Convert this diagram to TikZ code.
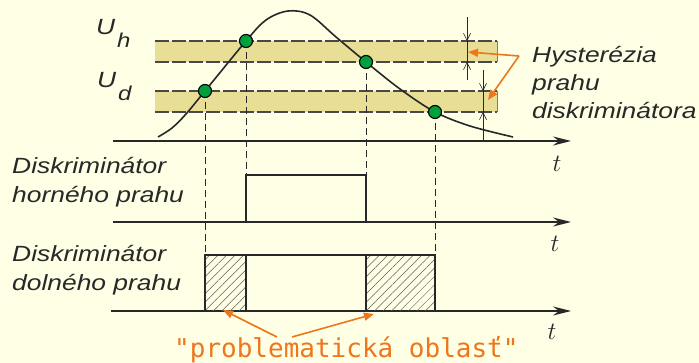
\documentclass[tikz,border=0pt]{standalone}
\usepackage{fontspec}
\setmainfont{Liberation Sans}
\newfontfamily\labfont[FakeStretch=1.2]{Liberation Sans}
\newfontfamily\monofont{DejaVu Sans Mono}
\usetikzlibrary{arrows.meta,patterns.meta}
\definecolor{bg}{RGB}{255,255,230}
\definecolor{band}{RGB}{232,222,150}
\definecolor{org}{RGB}{238,118,28}
\definecolor{dotc}{RGB}{0,160,60}
\definecolor{ink}{RGB}{40,40,40}
\tikzset{
  axisline/.style={draw=ink, line width=1.3pt, -{Stealth[length=18pt,width=9pt,inset=6pt]}},
  guide/.style={draw=ink, dash pattern=on 7pt off 4pt, line width=0.8pt},
  bandedge/.style={draw=ink!85, dash pattern=on 14pt off 3pt, line width=1.1pt},
  sig/.style={draw=ink, line width=1.3pt},
  curvest/.style={draw=ink, line width=1.6pt},
  hatchfill/.style={pattern={Lines[angle=45,distance=6pt,line width=0.5pt]}, pattern color=ink!75},
  oarrow/.style={draw=org, line width=1.6pt, -{Triangle[length=10pt,width=8pt]}},
  hyst/.style={draw=ink, line width=0.6pt},
  hysttip/.style={draw=ink, line width=0.6pt, -{Straight Barb[length=7pt,width=7pt]}},
  dotst/.style={circle, fill=dotc, draw=black, line width=1.1pt, minimum size=13pt, inner sep=0pt},
  lab/.style={font=\labfont\itshape\fontsize{22}{26}\selectfont, inner sep=0pt, anchor=base west, text=ink},
  sublab/.style={font=\labfont\itshape\fontsize{20}{24}\selectfont, inner sep=0pt, anchor=base west, text=ink},
  tlab/.style={font=\fontsize{26}{26}\selectfont, inner sep=0pt, text=ink},
  monolab/.style={font=\monofont\fontsize{26}{30}\selectfont, inner sep=0pt, anchor=base west, text=org}
}
\begin{document}
\begin{tikzpicture}[x=1pt,y=-1pt]
\useasboundingbox (0,0) rectangle (699,363);
\fill[bg] (0,0) rectangle (699,363);
% bands
\fill[band] (155,41) rectangle (497,62);
\fill[band] (155,91) rectangle (497,112);
\draw[bandedge] (155,41) -- (497,41);
\draw[bandedge] (155,62) -- (497,62);
\draw[bandedge] (155,91) -- (497,91);
\draw[bandedge] (155,112) -- (497,112);
\draw[ink!60, line width=0.5pt] (497,41) -- (497,62) (497,91) -- (497,112);
% guides
\draw[guide] (205,91) -- (205,255);
\draw[guide] (246,41) -- (246,175);
\draw[guide] (366,62) -- (366,175);
\draw[guide] (435,112) -- (435,255);
% axes
\coordinate (a1s) at (113,141); \coordinate (a1e) at (571,141);
\coordinate (a2s) at (113,222); \coordinate (a2e) at (571,222);
\coordinate (a3s) at (111,311); \coordinate (a3e) at (571,311);
\draw[axisline] (a1s) -- (a1e);
\draw[axisline] (a2s) -- (a2e);
\draw[axisline] (a3s) -- (a3e);
\node[tlab] (t1) at (557,164) {$t$};
\node[tlab] (t2) at (555,244) {$t$};
\node[tlab] (t3) at (552,332) {$t$};
% curve
\draw[curvest] plot[smooth, tension=0.55] coordinates {(158,137) (172,128) (186,114) (205,91) (246,41) (266,20) (288,11) (310,15) (336,37) (366,62) (400,89) (435,112) (470,126) (513,137)};
% hysteresis markers
\draw[hyst] (467,17) -- (467,80);
\draw[hysttip] (467,20) -- (467,41);
\draw[hysttip] (467,80) -- (467,62);
\draw[hyst] (483,70) -- (483,140);
\draw[hysttip] (483,72) -- (483,91);
\draw[hysttip] (483,138) -- (483,112);
% dots
\node[dotst] (p1) at (205,91) {};
\node[dotst] (p2) at (246,41) {};
\node[dotst] (p3) at (366,62) {};
\node[dotst] (p4) at (435,112) {};
% upper pulse
\draw[sig] (246,222) -- (246,175) -- (366,175) -- (366,222);
% lower pulse
\path[hatchfill] (205,255) rectangle (246,311);
\path[hatchfill] (366,255) rectangle (435,311);
\draw[sig] (205,311) -- (205,255) -- (435,255) -- (435,311);
\draw[sig] (246,255) -- (246,311);
\draw[sig] (366,255) -- (366,311);
% labels
\node[lab] (uh) at (96,35) {U};
\node[sublab] (uhs) at (117,48) {h};
\node[lab] (ud) at (97,88) {U};
\node[sublab] (uds) at (118,101) {d};
\node[lab] (d1a) at (12,174) {Diskriminátor};
\node[lab] (d1b) at (12,203) {horného prahu};
\node[lab] (d2a) at (12,262) {Diskriminátor};
\node[lab] (d2b) at (12,291) {dolného prahu};
\node[lab] (h1) at (532,63) {Hysterézia};
\node[lab] (h2) at (532,91) {prahu};
\node[lab] (h3) at (532,119) {diskriminátora};
% orange arrows hysteresis
\coordinate (hs) at (519,56);
\coordinate (ht1) at (468,52);
\coordinate (ht2) at (488,100);
\draw[oarrow] (hs) -- (ht1);
\draw[oarrow] (hs) -- (ht2);
% problem text
\node[monolab] (prob) at (174,357) {"problematická oblasť"};
\coordinate (ps1) at (277,337); \coordinate (pt1) at (223,310);
\coordinate (ps2) at (292,337); \coordinate (pt2) at (374,314);
\draw[oarrow] (ps1) -- (pt1);
\draw[oarrow] (ps2) -- (pt2);
\end{tikzpicture}
\end{document}
